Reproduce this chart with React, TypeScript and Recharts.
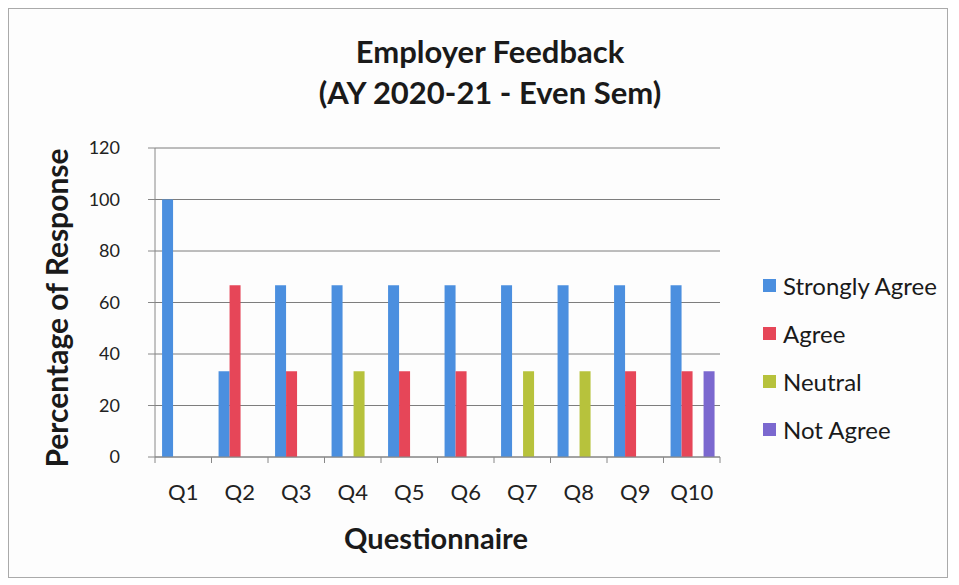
import { BarChart, Bar, XAxis, YAxis, CartesianGrid } from 'recharts';

const questions = ['Q1', 'Q2', 'Q3', 'Q4', 'Q5', 'Q6', 'Q7', 'Q8', 'Q9', 'Q10'];
const stronglyAgree = [100, 33.33, 66.67, 66.67, 66.67, 66.67, 66.67, 66.67, 66.67, 66.67];
const agree = [0, 66.67, 33.33, 0, 33.33, 33.33, 0, 0, 33.33, 33.33];
const neutral = [0, 0, 0, 33.33, 0, 0, 33.33, 33.33, 0, 0];
const notAgree = [0, 0, 0, 0, 0, 0, 0, 0, 0, 33.33];
const yTicks = [0, 20, 40, 60, 80, 100, 120];

const series = [
  { key: 'sa', name: 'Strongly Agree', color: '#4b8fdf' },
  { key: 'a', name: 'Agree', color: '#e64658' },
  { key: 'n', name: 'Neutral', color: '#b7c23c' },
  { key: 'na', name: 'Not Agree', color: '#7b68cf' },
];

const data = questions.map((q, i) => ({
  q,
  sa: stronglyAgree[i],
  a: agree[i],
  n: neutral[i],
  na: notAgree[i],
}));

const FONT = 'Lato, "Open Sans", sans-serif';
const W = 938;
const H = 568;
const Y_AXIS_W = 60;
const margin = { top: 139, right: 227, bottom: 90, left: 86 };
const plotW = W - margin.left - Y_AXIS_W - margin.right;
const band = plotW / questions.length;

// Excel-style ticks sit between categories, labels in the middle
function XTick(props: any) {
  const { x, y, payload, index } = props;
  const left = x - band / 2;
  return (
    <g>
      <line x1={left} y1={y - 8} x2={left} y2={y - 2} stroke="#888" />
      {index === questions.length - 1 && (
        <line x1={left + band} y1={y - 8} x2={left + band} y2={y - 2} stroke="#888" />
      )}
      <text x={x} y={y + 35} textAnchor="middle" fontSize={22} fill="#222" fontFamily={FONT}>
        {payload.value}
      </text>
    </g>
  );
}

export default function App() {
  return (
    <div
      style={{
        position: 'relative',
        width: W + 2,
        height: H + 2,
        background: '#fdfdfd',
        border: '1px solid #aaa',
        boxSizing: 'border-box',
        fontFamily: FONT,
        color: '#1a1a1a',
      }}
    >
      <div
        style={{
          position: 'absolute',
          top: 22,
          left: 0,
          width: 962,
          textAlign: 'center',
          fontWeight: 700,
          fontSize: 31,
          lineHeight: '41px',
        }}
      >
        Employer Feedback
        <br />
        (AY 2020-21 - Even Sem)
      </div>
      <div
        style={{
          position: 'absolute',
          left: 47,
          top: 299,
          transform: 'translate(-50%, -50%) rotate(-90deg)',
          whiteSpace: 'nowrap',
          fontWeight: 700,
          fontSize: 30,
        }}
      >
        Percentage of Response
      </div>
      <div
        style={{
          position: 'absolute',
          left: 427,
          top: 528,
          transform: 'translate(-50%, -50%)',
          whiteSpace: 'nowrap',
          fontWeight: 700,
          fontSize: 29,
        }}
      >
        Questionnaire
      </div>
      <div style={{ position: 'absolute', left: 754, top: 252, fontSize: 24 }}>
        {series.map((s) => (
          <div key={s.key} style={{ display: 'flex', alignItems: 'center', height: 48 }}>
            <span style={{ width: 13, height: 13, background: s.color, marginRight: 7 }} />
            {s.name}
          </div>
        ))}
      </div>
      <BarChart
        width={W}
        height={H}
        data={data}
        margin={margin}
        barCategoryGap="12.5%"
        barGap={0}
        style={{ position: 'absolute', left: 0, top: 0 }}
      >
        <CartesianGrid vertical={false} stroke="#7d7d7d" />
        <XAxis dataKey="q" stroke="#888" tickLine={false} tick={<XTick />} interval={0} />
        <YAxis
          width={Y_AXIS_W}
          domain={[0, 120]}
          ticks={yTicks}
          stroke="#888"
          tickSize={7}
          tickMargin={28}
          tick={{ fontSize: 18, fill: '#222', fontFamily: FONT }}
        />
        {series.map((s) => (
          <Bar key={s.key} dataKey={s.key} name={s.name} fill={s.color} isAnimationActive={false} />
        ))}
      </BarChart>
    </div>
  );
}
